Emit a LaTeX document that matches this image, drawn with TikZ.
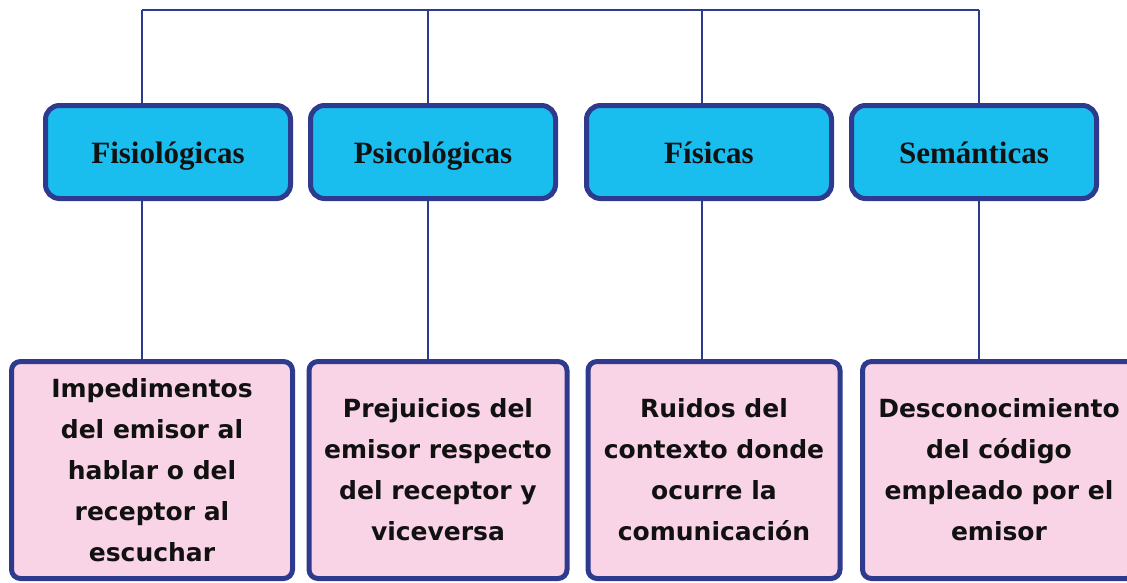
\documentclass[tikz,border=0pt]{standalone}
\usepackage{fontspec}
\setmainfont{Liberation Serif}
\newfontfamily\textocaja{DejaVu Sans}
\definecolor{azulborde}{HTML}{2E3A8E}
\definecolor{azulcaja}{HTML}{19BEEF}
\definecolor{rosacaja}{HTML}{F9D3E6}
\definecolor{tinta}{HTML}{111111}

\begin{document}
\begin{tikzpicture}[x=1pt, y=-1pt]
\tikzset{categoria/.style={draw=azulborde, fill=azulcaja, line width=5pt, rounded corners=14pt, minimum width=245pt, minimum height=93pt, inner sep=0pt, text height=25pt, text depth=3pt, text=tinta, font=\fontsize{31}{35}\selectfont\bfseries}}
\tikzset{detalle/.style={draw=azulborde, fill=rosacaja, line width=5pt, rounded corners=9pt, minimum height=217pt, inner sep=0pt, align=center, text=tinta, font=\textocaja\fontsize{25}{41}\selectfont\bfseries}}
\tikzset{enlace/.style={draw=azulborde, line width=2.5pt}}
\useasboundingbox (0, 0) rectangle (1127, 582);
\clip (0, 0) rectangle (1127, 582);
\coordinate (B1) at (142, 10);
\coordinate (B2) at (428, 10);
\coordinate (B3) at (702, 10);
\coordinate (B4) at (979, 10);
\node[categoria] (C1) at (168, 152) {Fisiológicas};
\node[categoria] (C2) at (433, 152) {Psicológicas};
\node[categoria] (C3) at (709, 152) {Físicas};
\node[categoria] (C4) at (974, 152) {Semánticas};
\node[detalle, minimum width=281pt] (D1) at (152, 470) {Impedimentos\\del emisor al\\hablar o del\\receptor al\\escuchar};
\node[detalle, minimum width=258pt] (D2) at (438, 470) {Prejuicios del\\emisor respecto\\del receptor y\\viceversa};
\node[detalle, minimum width=252pt] (D3) at (714, 470) {Ruidos del\\contexto donde\\ocurre la\\comunicación};
\node[detalle, minimum width=273pt] (D4) at (999, 470) {Desconocimiento\\del código\\empleado por el\\emisor};
\draw[enlace] (B1) -- (B4);
\draw[enlace] (B1) -- (B1 |- C1.north);
\draw[enlace] (B2) -- (B2 |- C2.north);
\draw[enlace] (B3) -- (B3 |- C3.north);
\draw[enlace] (B4) -- (B4 |- C4.north);
\draw[enlace] (B1 |- C1.south) -- (B1 |- D1.north);
\draw[enlace] (B2 |- C2.south) -- (B2 |- D2.north);
\draw[enlace] (B3 |- C3.south) -- (B3 |- D3.north);
\draw[enlace] (B4 |- C4.south) -- (B4 |- D4.north);
\end{tikzpicture}
\end{document}
